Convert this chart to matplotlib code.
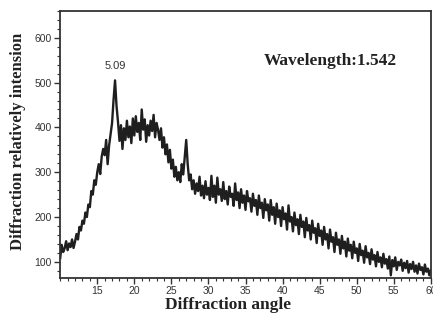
import numpy as np
import matplotlib
matplotlib.use("Agg")
import matplotlib.pyplot as plt
from matplotlib.ticker import MultipleLocator

# diffraction angle, step 0.2 from 10 to 60
angle_start = 10.0
angle_step = 0.2

# intensity (the jumps follow the noise band)
intensity = [
    108, 138, 122, 130, 146, 126, 141, 133, 150, 131,
    145, 162, 150, 178, 170, 192, 185, 210, 200, 228,
    222, 258, 250, 282, 272, 300, 318, 296, 335, 352,
    338, 372, 318, 360, 385, 410, 462, 505, 448, 412,
    370, 405, 352, 398, 372, 415, 378, 402, 365, 420,
    382, 425, 390, 410, 372, 440, 395, 418, 368, 405,
    382, 415, 392, 428, 378, 410, 395, 372, 398, 355,
    378, 340, 362, 322, 350, 308, 328, 290, 312, 282,
    300, 278, 318, 295, 335, 372, 318, 282, 295, 262,
    282, 252, 275, 258, 290, 248, 270, 242, 280, 250,
    265, 238, 292, 245, 270, 232, 288, 250, 262, 236,
    278, 240, 258, 228, 268, 245, 252, 225, 275, 238,
    255, 220, 262, 232, 248, 216, 258, 235, 242, 212,
    252, 225, 238, 205, 248, 220, 232, 198, 240, 215,
    228, 192, 238, 205, 222, 185, 230, 200, 215, 180,
    222, 195, 208, 172, 226, 190, 200, 168, 210, 182,
    195, 162, 205, 178, 190, 155, 198, 170, 182, 150,
    192, 165, 175, 142, 185, 158, 170, 138, 178, 150,
    162, 130, 172, 145, 155, 122, 165, 138, 150, 118,
    158, 130, 145, 112, 152, 125, 138, 108, 145, 120,
    130, 102, 140, 115, 125, 98, 135, 110, 120, 95,
    128, 105, 115, 90, 122, 100, 110, 88, 118, 96,
    106, 85, 112, 70, 104, 90, 110, 82, 100, 92,
    105, 80, 98, 86, 102, 76, 95, 84, 100, 78,
    92, 74, 96, 82, 88, 72, 94, 78, 85, 70,
    82,
]
angle = angle_start + angle_step * np.arange(len(intensity))

peak_label = '5.09'
peak_pos = (17.4, 536)
note_text = 'Wavelength:1.542'
note_pos = (46.4, 548)

serif = ['Liberation Serif', 'DejaVu Serif']
sans = ['Liberation Sans', 'DejaVu Sans']

fig = plt.figure(figsize=(4.33, 3.21), dpi=100)
ax = fig.add_axes([0.139, 0.134, 0.856, 0.832])

ax.plot(angle, intensity, color='#1f1f1f', linewidth=1.7)

ax.set_xlim(10, 60)
ax.set_ylim(64, 660)
ax.set_xticks([15, 20, 25, 30, 35, 40, 45, 50, 55, 60])
ax.set_yticks([100, 200, 300, 400, 500, 600])
ax.xaxis.set_minor_locator(MultipleLocator(1))
ax.yaxis.set_minor_locator(MultipleLocator(20))
ax.tick_params(which='major', direction='out', length=4, width=1, color='#333333',
               labelsize=7.5, pad=2)
ax.tick_params(which='minor', direction='out', length=2, width=0.8, color='#333333')
for lab in ax.get_xticklabels() + ax.get_yticklabels():
    lab.set_family(sans)
    lab.set_color('#333333')

for sp in ax.spines.values():
    sp.set_linewidth(1.3)
    sp.set_color('#333333')

ax.text(peak_pos[0], peak_pos[1], peak_label, ha='center', va='center',
        fontsize=8, family=sans, color='#333333')
ax.text(note_pos[0], note_pos[1], note_text, ha='center', va='center',
        fontsize=12.5, fontweight='bold', family=serif, color='#222222')

# axis titles placed like in the scan
fig.text(228 / 433, 1 - 305 / 321, 'Diffraction angle', ha='center', va='center',
         fontsize=12.5, fontweight='bold', family=serif, color='#222222')
fig.text(18 / 433, 1 - 141 / 321, 'Diffraction relatively intension', ha='center',
         va='center', rotation=90, fontsize=12, fontweight='bold', family=serif,
         color='#222222')

fig.savefig('out.png', dpi=100, facecolor='white')
